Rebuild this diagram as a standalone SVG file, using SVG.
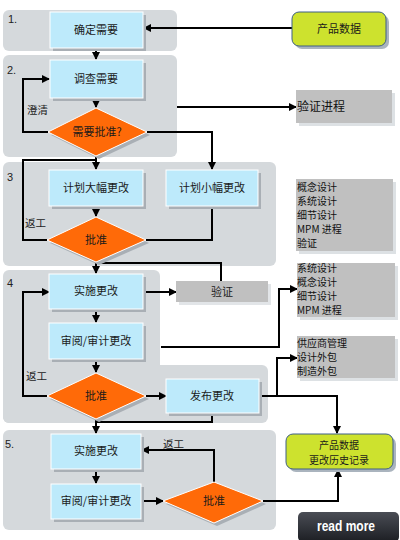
<svg xmlns="http://www.w3.org/2000/svg" width="400" height="540" viewBox="0 0 400 540">
<defs>
<style>
.sec{fill:#d5d9dc}
.box{fill:#bdeafb;stroke:#ffffff;stroke-width:1}
.sh{fill:#a9afb5}
.dia{fill:#ff6a08;stroke:#ffffff;stroke-width:1}
.info{fill:#c0c0c0}
.infosh{fill:#dde1e4}
.t{font-family:"Noto Sans CJK SC","Noto Sans",sans-serif;font-size:11px;fill:#1a1a1a;text-anchor:middle}
.t2{font-family:"Noto Sans CJK SC","Noto Sans",sans-serif;font-size:10px;fill:#1a1a1a;text-anchor:middle}
.it{font-family:"Noto Sans CJK SC","Noto Sans",sans-serif;font-size:10px;fill:#111}
.it1{font-family:"Noto Sans CJK SC","Noto Sans",sans-serif;font-size:12px;fill:#111}
.lab{font-family:"Noto Sans CJK SC","Noto Sans",sans-serif;font-size:10.5px;fill:#222}
.num{font-family:"Liberation Sans",sans-serif;font-size:11px;fill:#222}
.c{fill:none;stroke:#000;stroke-width:2}
.ca{fill:none;stroke:#000;stroke-width:2;marker-end:url(#ah)}
.grn{fill:#cde22e;stroke:#3f5f86;stroke-width:1}
</style>
<marker id="ah" markerUnits="userSpaceOnUse" markerWidth="8" markerHeight="8" refX="7" refY="4" orient="auto">
<path d="M0,0 L8,4 L0,8 z" fill="#000"/>
</marker>
<linearGradient id="btn" x1="0" y1="0" x2="0" y2="1">
<stop offset="0" stop-color="#4a4d55"/>
<stop offset="1" stop-color="#1c1e23"/>
</linearGradient>
</defs>
<rect width="400" height="540" fill="#ffffff"/>

<g id="sections">
<rect class="sec" x="3" y="10" width="174" height="41" rx="6"/>
<rect class="sec" x="3" y="55" width="174" height="102" rx="6"/>
<rect class="sec" x="3" y="162" width="273" height="104" rx="6"/>
<rect class="sec" x="3" y="270" width="157" height="153" rx="6"/>
<rect class="sec" x="3" y="365" width="265" height="58" rx="6"/>
<rect class="sec" x="3" y="430" width="273" height="100" rx="6"/>
<text class="num" x="8" y="23">1.</text>
<text class="num" x="7" y="74">2.</text>
<text class="num" x="7" y="181">3</text>
<text class="num" x="7" y="287">4</text>
<text class="num" x="5" y="448">5.</text>
</g>

<g id="connectors">
<path class="ca" d="M292,28 H144"/>
<path class="ca" d="M96,48 V59"/>
<path class="ca" d="M96,98 V107"/>
<path class="ca" d="M48,132 H23 V79 H49"/>
<path class="ca" d="M177,107 H296"/>
<path class="ca" d="M147,132 H212 V169"/>
<path class="ca" d="M96,156 V169"/>
<path class="c" d="M47,240 H23 V160 H96"/>
<path class="ca" d="M96,206 V216"/>
<path class="c" d="M212,206 V240 H146"/>
<path class="ca" d="M96,262 V273"/>
<path class="c" d="M221,281 V263 H96"/>
<path class="ca" d="M143,292 H176"/>
<path class="ca" d="M96,309 V322"/>
<path class="ca" d="M96,359 V372"/>
<path class="ca" d="M47,396 H23 V292 H49"/>
<path class="ca" d="M161,347 H279 V289 H297"/>
<path class="ca" d="M146,396 H166"/>
<path class="ca" d="M259,396 H337 V433"/>
<path class="ca" d="M277,396 V358 H297"/>
<path class="c" d="M212,413 V422 H96"/>
<path class="ca" d="M96,419 V433"/>
<path class="ca" d="M96,469 V483"/>
<path class="ca" d="M141,501 H163"/>
<path class="ca" d="M214,482 V450 H142"/>
<path class="ca" d="M263,501 H338 V470"/>
</g>

<g id="n-product">
<rect x="295" y="15" width="94" height="34" rx="7" fill="#aab4be"/>
<rect class="grn" x="292" y="12" width="94" height="34" rx="7"/>
<text class="t" x="339" y="33">产品数据</text>
</g>

<g id="n1">
<rect class="sh" x="53" y="15" width="93" height="36"/>
<rect class="box" x="50" y="12" width="93" height="36"/>
<text class="t" x="96" y="34">确定需要</text>
</g>

<g id="n2">
<rect class="sh" x="53" y="63" width="93" height="38"/>
<rect class="box" x="50" y="60" width="93" height="38"/>
<text class="t" x="96" y="83">调查需要</text>
</g>

<g id="d2">
<path class="sh" d="M99,111 L150,135 L99,159 L51,135 z"/>
<path class="dia" d="M96,108 L147,132 L96,156 L48,132 z"/>
<text class="t" x="97" y="136">需要批准?</text>
</g>

<g id="n3a">
<rect class="sh" x="52" y="173" width="94" height="36"/>
<rect class="box" x="49" y="170" width="94" height="36"/>
<text class="t" x="96" y="192">计划大幅更改</text>
</g>

<g id="n3b">
<rect class="sh" x="169" y="173" width="92" height="36"/>
<rect class="box" x="166" y="170" width="92" height="36"/>
<text class="t" x="212" y="192">计划小幅更改</text>
</g>

<g id="d3">
<path class="sh" d="M99,220 L149,243 L99,265 L50,243 z"/>
<path class="dia" d="M96,217 L146,240 L96,262 L47,240 z"/>
<text class="t" x="96" y="244">批准</text>
</g>

<g id="n4a">
<rect class="sh" x="52" y="277" width="94" height="35"/>
<rect class="box" x="49" y="274" width="94" height="35"/>
<text class="t" x="96" y="295">实施更改</text>
</g>

<g id="n4v">
<rect x="179" y="284" width="92" height="21" fill="#e2e5e8"/>
<rect class="info" x="176" y="281" width="92" height="21"/>
<text class="t" x="222" y="296">验证</text>
</g>

<g id="n4b">
<rect class="sh" x="52" y="326" width="94" height="36"/>
<rect class="box" x="49" y="323" width="94" height="36"/>
<text class="t" x="96" y="345">审阅/审计更改</text>
</g>

<g id="d4">
<path class="sh" d="M99,376 L149,399 L99,422 L50,399 z"/>
<path class="dia" d="M96,373 L146,396 L96,419 L47,396 z"/>
<text class="t" x="96" y="400">批准</text>
</g>

<g id="n4c">
<rect class="sh" x="169" y="382" width="93" height="34"/>
<rect class="box" x="166" y="379" width="93" height="34"/>
<text class="t" x="212" y="400">发布更改</text>
</g>

<g id="n5a">
<rect class="sh" x="54" y="437" width="90" height="35"/>
<rect class="box" x="51" y="434" width="90" height="35"/>
<text class="t" x="96" y="455">实施更改</text>
</g>

<g id="n5b">
<rect class="sh" x="54" y="487" width="90" height="35"/>
<rect class="box" x="51" y="484" width="90" height="35"/>
<text class="t" x="96" y="505">审阅/审计更改</text>
</g>

<g id="d5">
<path class="sh" d="M217,485 L266,504 L217,526 L166,504 z"/>
<path class="dia" d="M214,482 L263,501 L214,523 L163,501 z"/>
<text class="t" x="214" y="505">批准</text>
</g>

<g id="n-history">
<rect x="289" y="437" width="107" height="35" rx="7" fill="#aab4be"/>
<rect class="grn" x="286" y="434" width="107" height="35" rx="7"/>
<text class="t2" x="339" y="449">产品数据</text>
<text class="t2" x="339" y="464">更改历史记录</text>
</g>

<g id="info1">
<rect class="infosh" x="299" y="93" width="96" height="33"/>
<rect class="info" x="296" y="90" width="96" height="33"/>
<text class="it1" x="297" y="111">验证进程</text>
</g>

<g id="info2">
<rect class="infosh" x="299" y="182" width="97" height="72"/>
<rect class="info" x="296" y="179" width="97" height="72"/>
<text class="it" x="297" y="191">概念设计</text>
<text class="it" x="297" y="205">系统设计</text>
<text class="it" x="297" y="219">细节设计</text>
<text class="it" x="297" y="233">MPM 进程</text>
<text class="it" x="297" y="247">验证</text>
</g>

<g id="info3">
<rect class="infosh" x="300" y="266" width="98" height="54"/>
<rect class="info" x="297" y="263" width="98" height="54"/>
<text class="it" x="297" y="272">系统设计</text>
<text class="it" x="297" y="286">概念设计</text>
<text class="it" x="297" y="300">细节设计</text>
<text class="it" x="297" y="314">MPM 进程</text>
</g>

<g id="info4">
<rect class="infosh" x="300" y="339" width="98" height="42"/>
<rect class="info" x="297" y="336" width="98" height="42"/>
<text class="it" x="297" y="347">供应商管理</text>
<text class="it" x="297" y="361">设计外包</text>
<text class="it" x="297" y="375">制造外包</text>
</g>

<g id="labels">
<text class="lab" x="27" y="114">澄清</text>
<text class="lab" x="25" y="227">返工</text>
<text class="lab" x="26" y="380">返工</text>
<text class="lab" x="163" y="448">返工</text>
</g>

<g id="readmore">
<rect x="298" y="512" width="101" height="30" rx="5" fill="url(#btn)"/>
<text x="346" y="531" font-family="Liberation Sans, sans-serif" font-size="15" font-weight="bold" fill="#ffffff" text-anchor="middle" textLength="58" lengthAdjust="spacingAndGlyphs">read more</text>
</g>
</svg>
